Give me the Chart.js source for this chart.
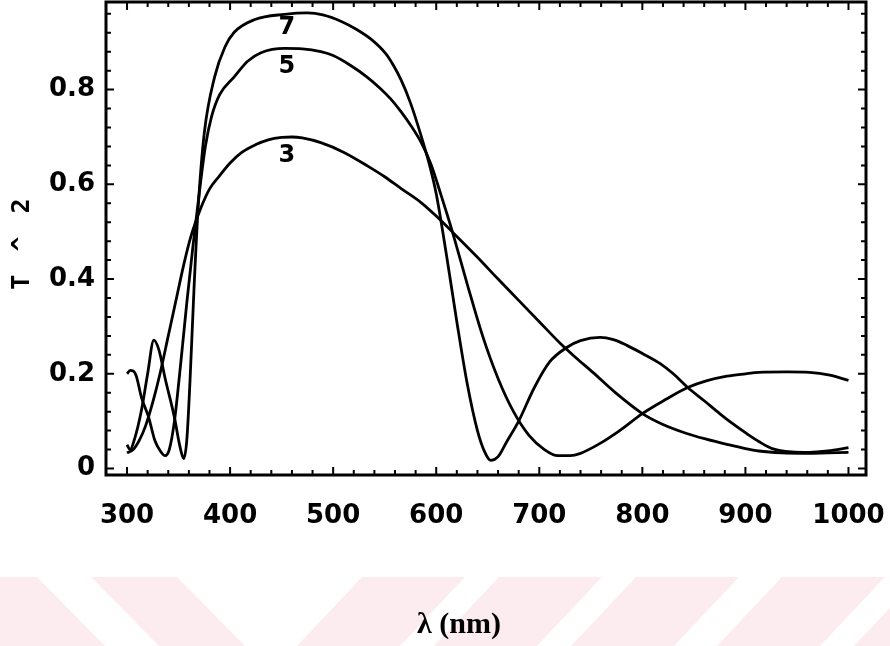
<!DOCTYPE html>
<html lang="en">
<head>
  <meta charset="UTF-8" />
  <title>T^2 vs wavelength</title>
  <script src="https://cdn.jsdelivr.net/npm/chart.js"></script>
  <style>
    body { margin: 0; background: #fff; }
    #wrap { position: relative; width: 890px; height: 646px; }
  </style>
</head>
<body>
  <div id="wrap"><canvas id="chart"></canvas></div>

  <script>
    // wavelength (nm) and T^2 for the 3, 5 and 7 layer stacks
    const wl3 = [300, 306, 312, 318, 325, 332, 340, 348, 355, 362, 372, 380, 389, 400, 411, 425, 437, 450, 460, 470,
      488, 510, 534, 550, 566, 585, 600, 620, 640, 660, 680, 700, 720, 735, 752, 775, 800, 820, 843, 862,
      882, 900, 913, 935, 960, 980, 1000];
    const t3 = [0.033, 0.04, 0.06, 0.09, 0.14, 0.2, 0.28, 0.36, 0.43, 0.49, 0.552, 0.59, 0.616, 0.645, 0.667, 0.684, 0.694, 0.699, 0.70, 0.698,
      0.688, 0.668, 0.638, 0.616, 0.591, 0.562, 0.533, 0.49, 0.446, 0.4, 0.355, 0.31, 0.265, 0.235, 0.203, 0.158, 0.116, 0.093, 0.074, 0.062,
      0.051, 0.042, 0.037, 0.033, 0.032, 0.033, 0.034];

    const wl5 = [300, 303, 306, 309, 314, 321, 327, 332, 337, 341, 346, 352, 358, 364, 370, 376, 382, 390, 404, 417,
      430, 453, 470, 488, 500, 517, 532, 546, 556, 566, 576, 585, 595, 605, 615, 630, 645, 660, 675, 690,
      705, 718, 730, 740, 759, 778, 800, 822, 844, 862, 882, 900, 913, 940, 962, 982, 1000];
    const t5 = [0.2, 0.207, 0.206, 0.195, 0.15, 0.108, 0.059, 0.038, 0.027, 0.04, 0.1, 0.22, 0.35, 0.47, 0.58, 0.68, 0.743, 0.79, 0.827, 0.86,
      0.878, 0.887, 0.886, 0.88, 0.872, 0.851, 0.828, 0.802, 0.78, 0.753, 0.722, 0.69, 0.642, 0.575, 0.505, 0.39, 0.28, 0.19, 0.12, 0.07,
      0.04, 0.027, 0.027, 0.032, 0.053, 0.08, 0.116, 0.145, 0.171, 0.185, 0.195, 0.2, 0.203, 0.204, 0.203, 0.197, 0.186];

    const wl7 = [300, 303, 307, 314, 320, 326, 331, 337, 346, 351, 355, 358, 361, 365, 369, 375, 385, 395, 404, 424,
      453, 475, 490, 508, 522, 537, 551, 558, 566, 575, 585, 593, 600, 610, 620, 630, 640, 647, 653, 660, 668,
      680, 695, 710, 727, 740, 759, 772, 785, 800, 817, 830, 844, 860, 875, 888, 901, 913, 926, 945, 962,
      980, 1000];
    const t7 = [0.05, 0.04, 0.06, 0.123, 0.2, 0.271, 0.25, 0.19, 0.108, 0.05, 0.021, 0.06, 0.18, 0.38, 0.55, 0.709, 0.827, 0.89, 0.921, 0.948,
      0.959, 0.962, 0.958, 0.944, 0.928, 0.906, 0.876, 0.853, 0.82, 0.772, 0.705, 0.645, 0.58, 0.45, 0.31, 0.18, 0.08, 0.035, 0.017, 0.025, 0.055,
      0.1, 0.17, 0.225, 0.256, 0.27, 0.277, 0.272, 0.26, 0.243, 0.222, 0.2, 0.171, 0.143, 0.116, 0.094, 0.074, 0.057, 0.042, 0.035, 0.034,
      0.037, 0.044];

    const xTicks = [300, 400, 500, 600, 700, 800, 900, 1000];
    const yTicks = [0, 0.2, 0.4, 0.6, 0.8];
    const yTickLabels = ['0', '0.2', '0.4', '0.6', '0.8'];
    const xMinorStep = 20;
    const yMinorStep = 0.04;

    // curve names and where they sit (nm, T^2)
    const curveNames = ['3', '5', '7'];
    const curveNameAt = [[455, 0.66], [455, 0.848], [455, 0.93]];

    const tickFont = { family: 'DejaVu Sans', size: 26, weight: 'bold' };

    function pts(xs, ys) {
      return xs.map((x, i) => ({ x: x, y: ys[i] }));
    }

    // keep the plot box where it is, labels may hang past it
    function noPadding(s) {
      s.paddingLeft = 0; s.paddingRight = 0;
      s.paddingTop = 0; s.paddingBottom = 0;
    }

    const decor = {
      id: 'decor',
      beforeDraw(chart) {
        const ctx = chart.ctx;
        // faint pink diagonal bands along the bottom
        const top = 577, bot = 646;
        const bands = [[-70, 37, 68], [91, 177, 68], [362, 465, -65], [499, 602, -65],
          [636, 739, -65], [782, 885, -65], [919, 1022, -65]];
        ctx.save();
        ctx.fillStyle = '#fdecef';
        bands.forEach(([a, b, s]) => {
          ctx.beginPath();
          ctx.moveTo(a, top);
          ctx.lineTo(b, top);
          ctx.lineTo(b + s, bot);
          ctx.lineTo(a + s, bot);
          ctx.closePath();
          ctx.fill();
        });
        ctx.restore();
      },
      afterDraw(chart) {
        const { ctx, chartArea: a, scales: { x, y } } = chart;
        ctx.save();
        ctx.strokeStyle = '#000';
        ctx.lineCap = 'butt';

        // inward ticks on all four sides
        ctx.lineWidth = 2;
        ctx.beginPath();
        for (let i = 0; ; i++) {
          const v = xTicks[0] + i * xMinorStep;
          if (v > x.max) break;
          const px = x.getPixelForValue(v);
          const len = xTicks.includes(v) ? 8 : 5;
          ctx.moveTo(px, a.bottom); ctx.lineTo(px, a.bottom - len);
          ctx.moveTo(px, a.top); ctx.lineTo(px, a.top + len);
        }
        for (let i = 0; ; i++) {
          const v = +(i * yMinorStep).toFixed(2);
          if (v > y.max) break;
          const py = y.getPixelForValue(v);
          const len = yTicks.includes(v) ? 8 : 5;
          ctx.moveTo(a.left, py); ctx.lineTo(a.left + len, py);
          ctx.moveTo(a.right, py); ctx.lineTo(a.right - len, py);
        }
        ctx.stroke();

        // frame
        ctx.lineWidth = 3;
        ctx.strokeRect(a.left, a.top, a.right - a.left, a.bottom - a.top);

        // curve names
        ctx.fillStyle = '#000';
        ctx.font = 'bold 24px "DejaVu Sans"';
        ctx.textAlign = 'center';
        ctx.textBaseline = 'middle';
        curveNames.forEach((n, i) => {
          ctx.fillText(n, x.getPixelForValue(curveNameAt[i][0]), y.getPixelForValue(curveNameAt[i][1]));
        });

        // axis titles
        ctx.font = 'bold 30px "Liberation Serif"';
        ctx.textBaseline = 'alphabetic';
        ctx.fillText('\u03bb (nm)', 459, 633);

        ctx.save();
        ctx.translate(22, 244);
        ctx.rotate(-Math.PI / 2);
        ctx.font = 'bold 25px "DejaVu Sans Mono"';
        ctx.letterSpacing = '4px';
        ctx.textBaseline = 'middle';
        ctx.fillText('T ^ 2', 2, 0);
        ctx.restore();

        ctx.restore();
      }
    };

    const line = (data) => ({
      data: data,
      borderColor: '#000',
      borderWidth: 2.8,
      pointRadius: 0,
      cubicInterpolationMode: 'monotone',
      fill: false
    });

    new Chart(document.getElementById('chart'), {
      type: 'line',
      data: {
        datasets: [line(pts(wl3, t3)), line(pts(wl5, t5)), line(pts(wl7, t7))]
      },
      options: {
        responsive: true,
        maintainAspectRatio: false,
        animation: false,
        events: [],
        layout: { padding: { top: 2, right: 24, left: 0, bottom: 0 } },
        plugins: { legend: { display: false }, tooltip: { enabled: false } },
        scales: {
          x: {
            type: 'linear',
            min: 279.6,
            max: 1017,
            grid: { display: false, drawTicks: false },
            border: { display: false },
            afterBuildTicks: s => { s.ticks = xTicks.map(v => ({ value: v })); },
            afterFit: s => { s.height = 171; noPadding(s); },
            ticks: {
              autoSkip: false, maxRotation: 0, padding: 26, color: '#000', font: tickFont,
              callback: (v) => String(v)
            }
          },
          y: {
            type: 'linear',
            min: -0.0137,
            max: 0.985,
            grid: { display: false, drawTicks: false },
            border: { display: false },
            afterBuildTicks: s => { s.ticks = yTicks.map(v => ({ value: v })); },
            afterFit: s => { s.width = 106; noPadding(s); },
            ticks: {
              padding: 11,
              color: '#000',
              font: tickFont,
              callback: (v) => yTickLabels[yTicks.indexOf(v)]
            }
          }
        }
      },
      plugins: [decor]
    });
  </script>
</body>
</html>
